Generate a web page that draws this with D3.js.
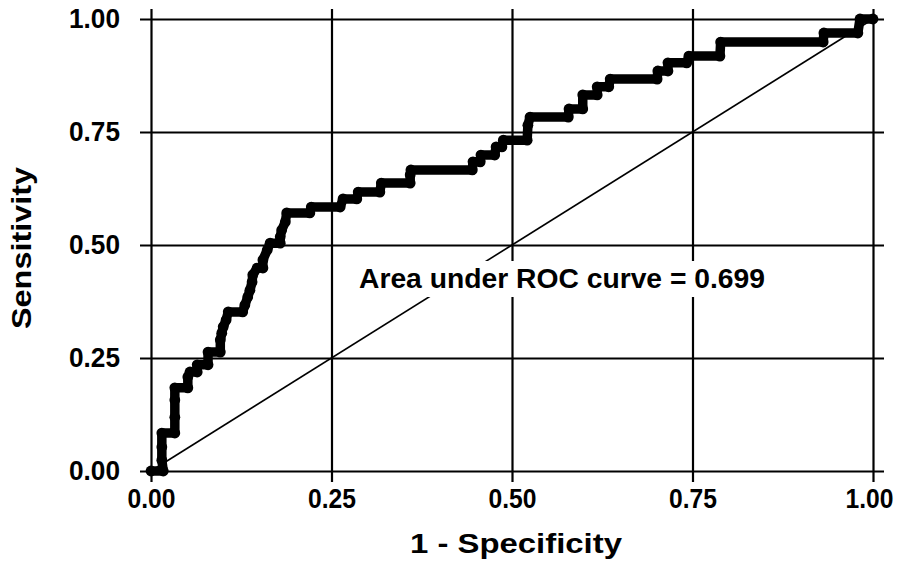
<!DOCTYPE html>
<html>
<head>
<meta charset="utf-8">
<script src="https://cdn.jsdelivr.net/npm/d3@7"></script>
<style>
  body { margin: 0; background: #fff; }
  text { font-family: "Liberation Sans", Arial, sans-serif; font-weight: bold; fill: #000; }
</style>
</head>
<body>
<svg id="chart"></svg>
<script>
var width = 898, height = 561;

// tick values on both axes
var tickValues = [0, 0.25, 0.5, 0.75, 1];
var tickLabels = ["0.00", "0.25", "0.50", "0.75", "1.00"];

// ROC curve (1 - specificity, sensitivity)
var fpr = [0, 0.017, 0.015, 0.015, 0.015, 0.033, 0.033, 0.033, 0.033, 0.051,
  0.051, 0.054, 0.064, 0.064, 0.079, 0.079, 0.096, 0.096, 0.098, 0.100,
  0.104, 0.107, 0.127, 0.130, 0.134, 0.137, 0.140, 0.141, 0.147, 0.155,
  0.155, 0.161, 0.165, 0.179, 0.179, 0.181, 0.186, 0.188, 0.220, 0.222,
  0.262, 0.266, 0.285, 0.287, 0.317, 0.319, 0.359, 0.359, 0.360, 0.445,
  0.446, 0.456, 0.457, 0.476, 0.478, 0.486, 0.488, 0.521, 0.522, 0.525,
  0.578, 0.579, 0.598, 0.598, 0.618, 0.618, 0.634, 0.636, 0.701, 0.702,
  0.716, 0.716, 0.742, 0.745, 0.788, 0.789, 0.931, 0.932, 0.979, 0.982, 1.0];
var sens = [0, 0, 0.024, 0.053, 0.084, 0.084, 0.119, 0.157, 0.184, 0.184,
  0.208, 0.219, 0.219, 0.235, 0.235, 0.263, 0.263, 0.290, 0.305, 0.319,
  0.334, 0.352, 0.352, 0.367, 0.385, 0.400, 0.418, 0.434, 0.449, 0.449,
  0.467, 0.489, 0.504, 0.504, 0.518, 0.533, 0.551, 0.571, 0.571, 0.584,
  0.584, 0.602, 0.602, 0.617, 0.617, 0.637, 0.637, 0.655, 0.666, 0.666,
  0.684, 0.684, 0.699, 0.699, 0.717, 0.717, 0.732, 0.732, 0.765, 0.783,
  0.783, 0.801, 0.801, 0.832, 0.832, 0.850, 0.850, 0.867, 0.867, 0.885,
  0.885, 0.903, 0.903, 0.918, 0.918, 0.949, 0.949, 0.969, 0.969, 1.0, 1.0];

var areaLabel = "Area under ROC curve = 0.699";

var svg = d3.select("#chart")
    .attr("width", width)
    .attr("height", height);

var x = d3.scaleLinear().domain([0, 1]).range([151, 873]);
var y = d3.scaleLinear().domain([0, 1]).range([471, 19]);

// grid lines double as axes and ticks
var yAxis = d3.axisLeft(y)
    .tickValues(tickValues)
    .tickFormat(function(d, i) { return tickLabels[i]; })
    .tickSize(-(x(1) - x(0) + 22))
    .tickPadding(20);

svg.append("g")
    .attr("transform", "translate(" + (x(0) - 11) + ",0)")
    .call(yAxis)
    .call(function(g) {
        g.select(".domain").remove();
        g.selectAll("line").attr("stroke", "#000").attr("stroke-width", 2.2);
        g.selectAll("text").attr("font-size", 27).attr("font-family", null)
            .attr("textLength", 51).attr("lengthAdjust", "spacingAndGlyphs");
    });

var xAxis = d3.axisBottom(x)
    .tickValues(tickValues)
    .tickFormat(function(d, i) { return tickLabels[i]; })
    .tickSize(-(y(0) - y(1) + 21))
    .tickPadding(7);

svg.append("g")
    .attr("transform", "translate(0," + (y(0) + 11) + ")")
    .call(xAxis)
    .call(function(g) {
        g.select(".domain").remove();
        g.selectAll("line").attr("stroke", "#000").attr("stroke-width", 2.2);
        g.selectAll("text").attr("font-size", 27).attr("font-family", null)
            .attr("textLength", 48).attr("lengthAdjust", "spacingAndGlyphs")
            .attr("dx", function(d) { return d === 1 ? -4 : 0; });
    });

// chance line
svg.append("line")
    .attr("x1", x(0)).attr("y1", y(0))
    .attr("x2", x(1)).attr("y2", y(1))
    .attr("stroke", "#000")
    .attr("stroke-width", 1.6);

// annotation on a white box
svg.append("rect")
    .attr("x", 354).attr("y", 261)
    .attr("width", 418).attr("height", 36)
    .attr("fill", "#fff");

svg.append("text")
    .attr("x", 359).attr("y", 288)
    .attr("font-size", 27)
    .attr("textLength", 406)
    .attr("lengthAdjust", "spacingAndGlyphs")
    .text(areaLabel);

// ROC curve
var points = fpr.map(function(d, i) { return [d, sens[i]]; });

var line = d3.line()
    .x(function(d) { return x(d[0]); })
    .y(function(d) { return y(d[1]); });

svg.append("path")
    .datum(points)
    .attr("d", line)
    .attr("fill", "none")
    .attr("stroke", "#000")
    .attr("stroke-width", 9.5)
    .attr("stroke-linejoin", "round")
    .attr("stroke-linecap", "round");

svg.selectAll("circle")
    .data(points)
    .enter().append("circle")
    .attr("cx", function(d) { return x(d[0]); })
    .attr("cy", function(d) { return y(d[1]); })
    .attr("r", 5.4)
    .attr("fill", "#000");

// axis titles
svg.append("text")
    .attr("x", 516).attr("y", 553)
    .attr("text-anchor", "middle")
    .attr("font-size", 28)
    .attr("textLength", 212)
    .attr("lengthAdjust", "spacingAndGlyphs")
    .text("1 - Specificity");

svg.append("text")
    .attr("transform", "translate(31,248) rotate(-90)")
    .attr("text-anchor", "middle")
    .attr("font-size", 28)
    .attr("textLength", 162)
    .attr("lengthAdjust", "spacingAndGlyphs")
    .text("Sensitivity");
</script>
</body>
</html>
